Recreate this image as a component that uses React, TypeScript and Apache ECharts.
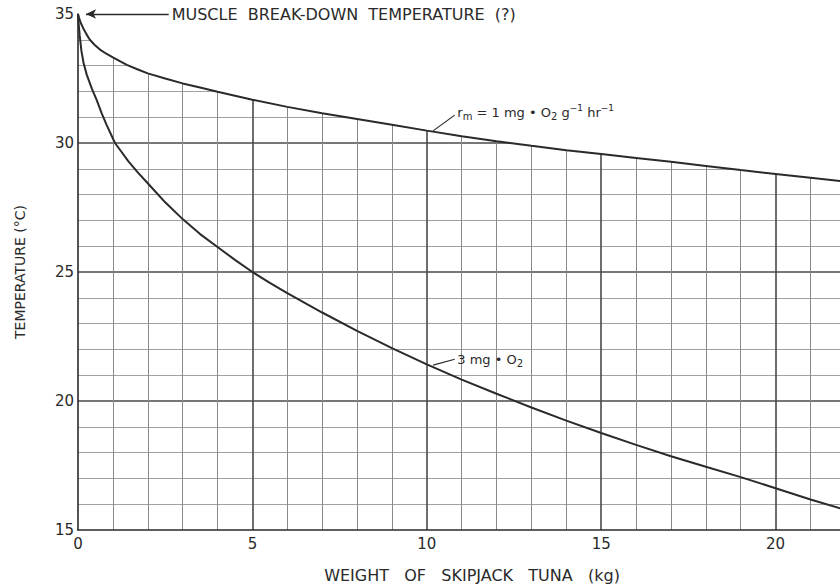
import React, { useEffect, useRef } from "react";
import * as echarts from "echarts";

// Upper curve: r_m = 1 mg O2 g^-1 hr^-1
const upperWeights = [0, 0.03, 0.08, 0.15, 0.24, 0.34, 0.48, 0.63, 0.8, 1, 1.2, 1.4, 1.7, 2, 2.5, 3, 3.5, 4, 5, 6, 7, 8, 9, 10, 11, 12, 13, 14, 15, 16, 17, 18, 19, 20, 21, 22];
const upperTemps = [35, 34.85, 34.65, 34.45, 34.22, 34.0, 33.8, 33.62, 33.47, 33.32, 33.17, 33.03, 32.86, 32.7, 32.5, 32.31, 32.15, 31.99, 31.68, 31.4, 31.15, 30.93, 30.71, 30.48, 30.26, 30.07, 29.89, 29.72, 29.57, 29.42, 29.27, 29.11, 28.95, 28.8, 28.65, 28.5];

// Lower curve: 3 mg O2
const lowerWeights = [0, 0.02, 0.05, 0.1, 0.16, 0.25, 0.4, 0.54, 0.68, 0.82, 1.06, 1.25, 1.44, 1.7, 2, 2.5, 3, 3.5, 4, 4.5, 5, 5.5, 6, 7, 8, 9, 10, 11, 12, 13, 14, 15, 16, 17, 18, 19, 20, 21, 22];
const lowerTemps = [35, 34.6, 34.15, 33.55, 33.1, 32.65, 32.1, 31.65, 31.15, 30.7, 30.0, 29.65, 29.3, 28.88, 28.44, 27.7, 27.05, 26.47, 25.97, 25.47, 25.0, 24.58, 24.18, 23.43, 22.72, 22.05, 21.42, 20.83, 20.28, 19.75, 19.24, 18.76, 18.3, 17.86, 17.45, 17.05, 16.62, 16.18, 15.78];

const xTicks = [0, 5, 10, 15, 20, 25];
const yTicks = [15, 20, 25, 30, 35];

const annotationText = "MUSCLE  BREAK-DOWN  TEMPERATURE  (?)";
const arrowFrom = [2.6, 35];
const arrowTo = [0.23, 35];
const upperLeaderFrom = [10.18, 30.47];
const upperLeaderTo = [10.8, 31.08];
const upperLabelAt = [10.86, 31.2];
const lowerLeaderFrom = [10.18, 21.39];
const lowerLeaderTo = [10.8, 21.62];
const lowerLabelAt = [10.86, 21.62];

const FONT = "DejaVu Sans";
const INK = "#2a2a2a";

export default function App() {
  const ref = useRef<HTMLDivElement>(null);
  useEffect(() => {
    if (!ref.current) return;
    const chart = echarts.init(ref.current, null, { renderer: "svg" });
    const upper = upperWeights.map((w, i) => [w, upperTemps[i]]);
    const lower = lowerWeights.map((w, i) => [w, lowerTemps[i]]);
    const richT = { fontSize: 13, fontFamily: FONT, color: INK, lineHeight: 22, verticalAlign: "middle" };
    const richS = { fontSize: 10, fontFamily: FONT, color: INK, lineHeight: 22, verticalAlign: "bottom", padding: [0, 0, 2, 0] };
    const richP = { fontSize: 9, fontFamily: FONT, color: INK, lineHeight: 22, verticalAlign: "top", padding: [2, 0, 0, 0] };
    chart.setOption({
      animation: false,
      backgroundColor: "#ffffff",
      textStyle: { fontFamily: FONT, color: INK },
      grid: { left: 78, right: 10, top: 14, bottom: 55, containLabel: false },
      xAxis: {
        type: "value",
        min: xTicks[0],
        max: xTicks[xTicks.length - 1],
        interval: 5,
        axisLine: { show: true, onZero: false, lineStyle: { color: INK, width: 1.6 } },
        axisTick: { show: false },
        axisLabel: { color: INK, fontSize: 15, fontFamily: FONT, margin: 6, showMaxLabel: false },
        splitLine: { show: true, showMinLine: false, lineStyle: { color: "#4a4a4a", width: 1.6 } },
        minorTick: { show: false, splitNumber: 5 },
        minorSplitLine: { show: true, lineStyle: { color: "#8a8a8a", width: 1 } },
      },
      yAxis: {
        type: "value",
        min: yTicks[0],
        max: yTicks[yTicks.length - 1],
        interval: 5,
        axisLine: { show: true, onZero: false, lineStyle: { color: INK, width: 1.6 } },
        axisTick: { show: false },
        axisLabel: { color: INK, fontSize: 15, fontFamily: FONT, margin: 4 },
        splitLine: { show: true, showMinLine: false, showMaxLine: false, lineStyle: { color: "#4a4a4a", width: 1.6 } },
        minorTick: { show: false, splitNumber: 5 },
        minorSplitLine: { show: true, lineStyle: { color: "#a0a0a0", width: 1 } },
      },
      graphic: [
        {
          type: "text",
          x: 472,
          y: 575,
          style: {
            text: "WEIGHT   OF   SKIPJACK   TUNA   (kg)",
            fontFamily: FONT,
            fontSize: 16,
            fill: INK,
            textAlign: "center",
            textVerticalAlign: "middle",
          },
        },
        {
          type: "text",
          x: 20,
          y: 272,
          rotation: Math.PI / 2,
          style: {
            text: "TEMPERATURE (°C)",
            fontFamily: FONT,
            fontSize: 14,
            fill: INK,
            textAlign: "center",
            textVerticalAlign: "middle",
          },
        },
      ],
      series: [
        {
          name: "1 mg",
          type: "line",
          data: upper,
          symbol: "none",
          smooth: false,
          clip: false,
          z: 3,
          lineStyle: { color: INK, width: 2 },
          areaStyle: { color: "#ffffff", opacity: 1, origin: "end" },
          markLine: {
            silent: true,
            symbol: ["none", "none"],
            lineStyle: { color: INK, width: 1.2, type: "solid", curveness: -0.3 },
            label: { show: false },
            data: [[{ coord: upperLeaderFrom }, { coord: upperLeaderTo }]],
          },
          markPoint: {
            silent: true,
            symbol: "circle",
            symbolSize: 1,
            itemStyle: { color: "rgba(0,0,0,0)" },
            label: {
              show: true,
              position: "right",
              distance: 0,
              formatter: "{t|r}{s|m}{t| = 1 mg • O}{s|2}{t| g}{p|−1}{t| hr}{p|−1}",
              rich: { t: richT, s: richS, p: richP },
            },
            data: [{ coord: upperLabelAt }],
          },
        },
        {
          name: "3 mg",
          type: "line",
          data: lower,
          symbol: "none",
          smooth: false,
          clip: false,
          z: 4,
          lineStyle: { color: INK, width: 2 },
          markLine: {
            silent: true,
            symbol: ["none", "none"],
            lineStyle: { color: INK, width: 1.2, type: "solid", curveness: -0.3 },
            label: { show: false },
            data: [[{ coord: lowerLeaderFrom }, { coord: lowerLeaderTo }]],
          },
          markPoint: {
            silent: true,
            symbol: "circle",
            symbolSize: 1,
            itemStyle: { color: "rgba(0,0,0,0)" },
            label: {
              show: true,
              position: "right",
              distance: 0,
              formatter: "{t|3 mg • O}{s|2}",
              rich: { t: richT, s: richS },
            },
            data: [{ coord: lowerLabelAt }],
          },
        },
        {
          name: "annotation",
          type: "line",
          data: [],
          clip: false,
          z: 5,
          markLine: {
            silent: true,
            symbol: ["none", "arrow"],
            symbolSize: [7, 10],
            lineStyle: { color: INK, width: 1.4, type: "solid" },
            label: {
              show: true,
              position: "start",
              distance: 3,
              formatter: annotationText,
              fontFamily: FONT,
              fontSize: 16,
              color: INK,
            },
            data: [[{ coord: arrowFrom }, { coord: arrowTo }]],
          },
        },
      ],
    });
    return () => chart.dispose();
  }, []);
  return (
    <div style={{ position: "fixed", left: 0, top: 0, width: 840, height: 585, overflow: "hidden", background: "#fff" }}>
      <div ref={ref} style={{ width: 960, height: 585 }} />
    </div>
  );
}
